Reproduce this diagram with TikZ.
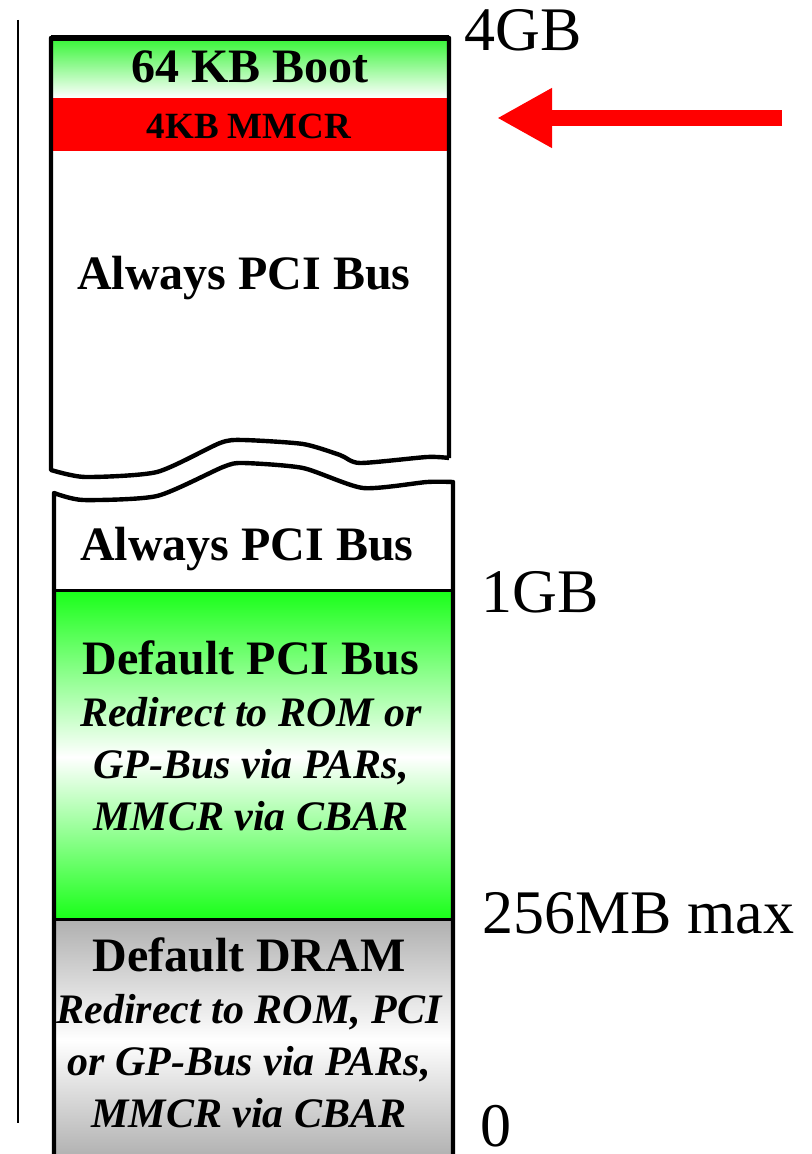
\documentclass[tikz,border=0pt]{standalone}
\usepackage{fontspec}
\setmainfont{Liberation Serif}
\usetikzlibrary{arrows.meta}
\definecolor{bootgreen}{RGB}{60,245,60}
\definecolor{pcigreen}{RGB}{25,255,25}
\definecolor{dramgray}{RGB}{175,175,175}
\definecolor{mmcrred}{RGB}{255,0,0}

\begin{document}
\begin{tikzpicture}[x=0.5pt,y=-0.5pt,
        regionlabel/.style={font=\fontsize{24}{26}\selectfont\bfseries, inner sep=0pt, anchor=base},
        redirectlabel/.style={font=\fontsize{21}{26}\selectfont\bfseries\itshape, inner sep=0pt, align=center},
        addrlabel/.style={font=\fontsize{31}{34}\selectfont, inner sep=0pt, anchor=base west},
        boxline/.style={line width=2.2pt, line join=round}]
    \useasboundingbox (0,0) rectangle (811,1154);
    % region fills
    \shade[top color=bootgreen, bottom color=white] (51,40) rectangle (449,98);
    \fill[mmcrred] (51,98) rectangle (449,151);
    \shade[top color=pcigreen, bottom color=white] (54,590) rectangle (453,757);
    \shade[top color=white, bottom color=pcigreen] (54,757) rectangle (453,919);
    \shade[top color=dramgray, bottom color=white] (54,919) rectangle (453,1040);
    \shade[top color=white, bottom color=dramgray] (54,1040) rectangle (453,1160);
    % outlines
    \draw[line width=1pt] (18,20) -- (18,1123);
    \draw[boxline] (449,458) -- (449,38) -- (51,38) -- (51,470)
        -- plot[smooth, tension=0.4] coordinates {(51,470) (85,477) (157,472) (220,443) (243,440) (303,444) (340,455) (360,463) (427,457) (449,458)};
    \draw[line width=3pt] (51,38) -- (449,38);
    \draw[boxline] (54,1160) -- (54,493)
        -- plot[smooth, tension=0.4] coordinates {(54,493) (83,500) (157,496) (223,467) (243,463) (303,468) (363,488) (427,482) (453,482)}
        -- (453,1160);
    \draw[line width=1.5pt] (54,590) -- (453,590);
    \draw[line width=1.5pt] (54,919) -- (453,919);
    % labels
    \node[regionlabel] (boot) at (250,83) {64 KB Boot};
    \node[regionlabel, font=\fontsize{18.5}{20}\selectfont\bfseries] (mmcr) at (249,139) {4KB MMCR};
    \node[regionlabel] (pcitop) at (244,290) {Always PCI Bus};
    \node[regionlabel] (pcilow) at (247,560) {Always PCI Bus};
    \node[redirectlabel] (defpci) at (251,736) {{\fontsize{24}{26}\selectfont\upshape Default PCI Bus}\\
        Redirect to ROM or\\ GP-Bus via PARs,\\ MMCR via CBAR};
    \node[redirectlabel] (defdram) at (249,1033) {{\fontsize{24}{26}\selectfont\upshape Default DRAM}\\
        Redirect to ROM, PCI\\ or GP-Bus via PARs,\\ MMCR via CBAR};
    \node[addrlabel] (gbfour) at (464,51) {4GB};
    \node[addrlabel] (gbone) at (481,612) {1GB};
    \node[addrlabel] (mbmax) at (482,933) {256MB max};
    \node[addrlabel] (zero) at (480,1146) {0};
    % arrow at MMCR
    \coordinate (arrowtail) at (782,118);
    \coordinate (arrowtip) at (497,118);
    \draw[mmcrred, line width=8pt, -{Triangle[length=27.5pt, width=28pt]}] (arrowtail) -- (arrowtip);
\end{tikzpicture}
\end{document}
